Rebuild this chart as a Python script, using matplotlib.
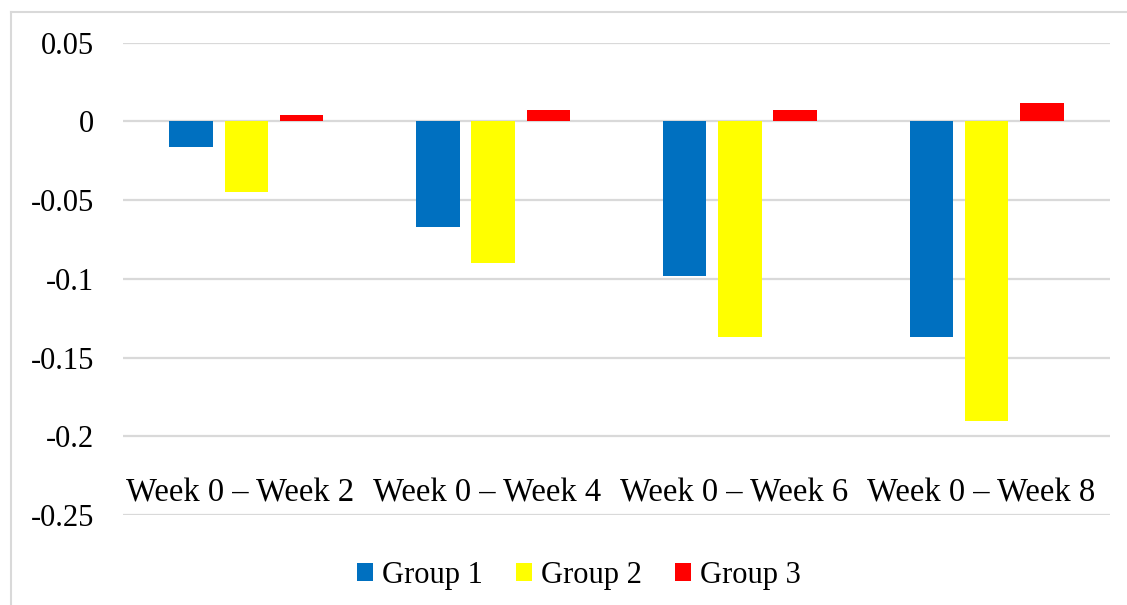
import matplotlib.pyplot as plt
import matplotlib.transforms as mtransforms
import numpy as np
from matplotlib.lines import Line2D

plt.rcParams['font.family'] = ['Liberation Serif', 'DejaVu Serif']

categories = ['Week 0 – Week 2', 'Week 0 – Week 4', 'Week 0 – Week 6', 'Week 0 – Week 8']
group1 = [-0.016, -0.067, -0.098, -0.137]
group2 = [-0.045, -0.090, -0.137, -0.190]
group3 = [0.004, 0.007, 0.007, 0.0114]
series_names = ['Group 1', 'Group 2', 'Group 3']
colors = ['#0070C0', '#FFFF00', '#FF0000']

fig = plt.figure(figsize=(11.27, 6.05), dpi=100)
ax = fig.add_axes([0.1091, 0.1488, 0.8759, 0.7806])

x = np.arange(len(categories))
width = 0.176
step = 0.224
handles = []
for i, (vals, name, c) in enumerate(zip([group1, group2, group3], series_names, colors)):
    b = ax.bar(x + (i - 1) * step, vals, width, color=c, label=name, zorder=3)
    handles.append(b)

ax.set_xlim(-0.5, len(categories) - 0.5)
ax.set_ylim(-0.25, 0.05)
ax.set_yticks([0.05, 0, -0.05, -0.1, -0.15, -0.2, -0.25])
ax.set_yticklabels(['0.05', '0', '-0.05', '-0.1', '-0.15', '-0.2', '-0.25'])
ax.tick_params(axis='y', length=0, pad=21, labelsize=22)
ax.set_xticks([])
ax.grid(axis='y', color='#d9d9d9', linewidth=1.6, zorder=0)
for s in ax.spines.values():
    s.set_visible(False)

# category labels sit just above the lowest gridline, nudged slightly left
lab_tr = mtransforms.offset_copy(ax.transData, fig=fig, x=-6, y=0, units='dots')
for xi, lab in zip(x, categories):
    ax.text(xi, -0.2417, lab, ha='center', va='baseline', fontsize=23.5, transform=lab_tr)

fig.legend(handles=handles, labels=series_names, loc='center', bbox_to_anchor=(0.514, 0.049),
           ncol=3, frameon=False, fontsize=22, handlelength=0.52, handleheight=0.55,
           handletextpad=0.3, columnspacing=1.08, borderpad=0.2)

# chart frame (top and left edges)
fig.add_artist(Line2D([11 / 1127, 1], [1 - 12 / 605, 1 - 12 / 605], color='#d9d9d9', lw=1.5))
fig.add_artist(Line2D([11 / 1127, 11 / 1127], [0, 1 - 12 / 605], color='#d9d9d9', lw=1.5))

fig.savefig('out.png', dpi=100)
